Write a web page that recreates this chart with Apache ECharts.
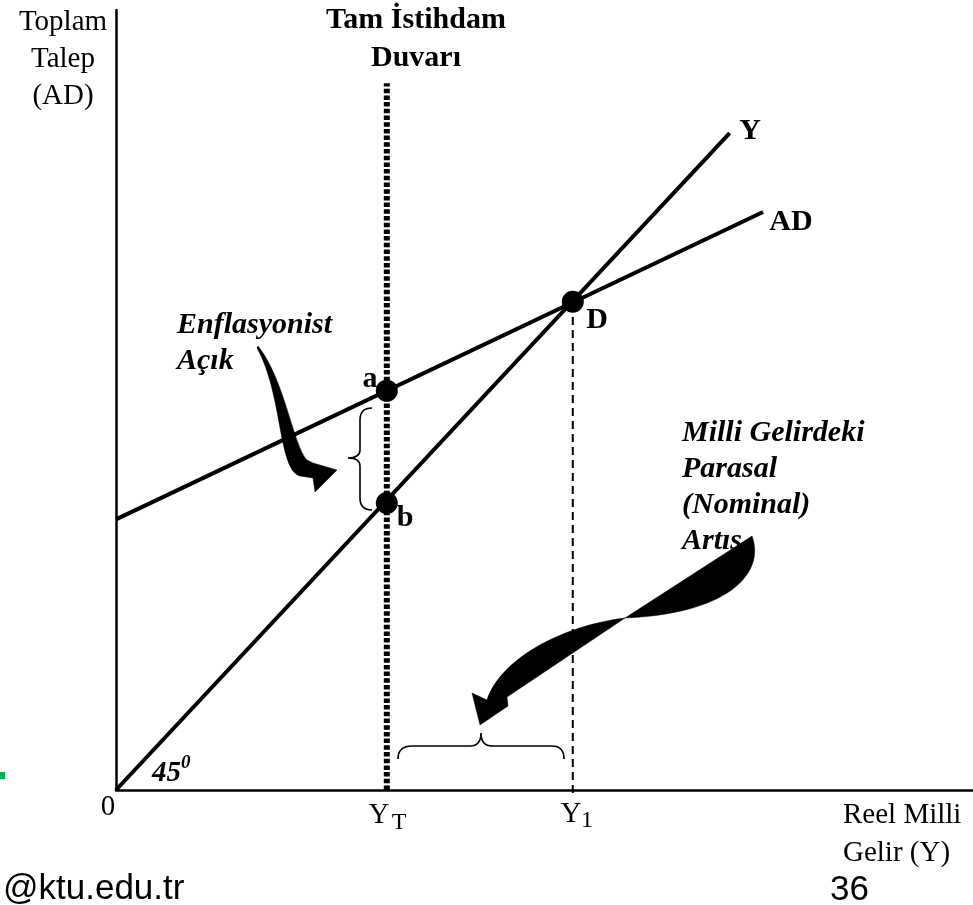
<!DOCTYPE html>
<html>
<head>
<meta charset="utf-8">
<script src="https://cdn.jsdelivr.net/npm/echarts@6/dist/echarts.min.js"></script>
<style>
  html, body { margin: 0; padding: 0; background: #fff; }
  #chart { width: 973px; height: 905px; }
</style>
</head>
<body>
<div id="chart"></div>
<script>
// axis units: 0..100 on both axes (no ticks in the original)
const lineY = [[0, 0], [71.6, 84.2]];
const lineAD = [[0, 34.7], [75.5, 74.1]];
const pointNames = ['a', 'b', 'D'];
const pointValues = [[31.6, 51.2], [31.6, 36.8], [53.3, 62.6]];
const wallLine = [[31.6, 0], [31.6, 90.6]];
const y1Line = [[53.3, -0.4], [53.3, 62.6]];

// brace and arrow outlines, [command, x, y, x, y ...] in axis units
const braceGap = [
  ['M', 29.87, 48.97], ['Q', 28.47, 48.97, 28.47, 47.44], ['L', 28.47, 43.59],
  ['Q', 28.47, 42.56, 27.07, 42.56], ['Q', 28.47, 42.56, 28.47, 41.54],
  ['L', 28.47, 37.44], ['Q', 28.47, 35.90, 29.87, 35.90]
];
const braceIncome = [
  ['M', 32.91, 3.97], ['Q', 32.91, 5.64, 34.54, 5.64], ['L', 41.31, 5.64],
  ['Q', 42.59, 5.64, 42.59, 7.31], ['Q', 42.59, 5.64, 43.87, 5.64],
  ['L', 50.88, 5.64], ['Q', 52.28, 5.64, 52.28, 3.97]
];
const arrowGap = [
  ['M', 16.45, 56.67], ['C', 19.49, 50.64, 18.90, 41.03, 21.47, 40.26],
  ['L', 22.99, 40.00], ['L', 23.22, 38.21], ['L', 25.79, 41.03],
  ['L', 22.99, 41.92], ['L', 22.29, 42.31],
  ['C', 20.65, 44.23, 19.72, 52.56, 16.57, 56.92], ['Z']
];
const arrowRiseTop = [
  ['M', 59.39, 22.05], ['L', 74.21, 32.56],
  ['C', 75.85, 27.56, 71.06, 22.56, 59.39, 22.05], ['Z']
];
const arrowRiseBottom = [
  ['M', 59.39, 22.05], ['C', 51.81, 21.03, 44.81, 16.67, 43.29, 11.54],
  ['L', 41.54, 12.44], ['L', 42.47, 8.33], ['L', 45.74, 10.77],
  ['L', 45.62, 11.92], ['Z']
];

const filledShapes = [arrowGap, arrowRiseTop, arrowRiseBottom];
const braceShapes = [braceGap, braceIncome];

function toPath(api, segs) {
  return segs.map(function (s) {
    const pts = [];
    for (let i = 1; i < s.length; i += 2) {
      const p = api.coord([s[i], s[i + 1]]);
      pts.push(p[0].toFixed(1) + ' ' + p[1].toFixed(1));
    }
    return s[0] + ' ' + pts.join(' ');
  }).join(' ');
}

const serif = '"Liberation Serif", "Times New Roman", serif';
const sans = '"Liberation Sans", Arial, sans-serif';

function txt(text, x, y, opt) {
  return {
    type: 'text', x: x, y: y, z: 100,
    style: Object.assign({
      text: text,
      fontFamily: serif,
      fontSize: 29,
      fill: '#000',
      textAlign: 'center',
      textVerticalAlign: 'middle'
    }, opt || {})
  };
}

const chart = echarts.init(document.getElementById('chart'), null, { renderer: 'canvas' });

const option = {
  backgroundColor: '#fff',
  animation: false,
  grid: { left: 116, right: 0, top: 10, bottom: 115 },
  xAxis: {
    type: 'value', min: 0, max: 100,
    axisLine: { show: true, onZero: false, lineStyle: { color: '#000', width: 2.5 } },
    axisTick: { show: false }, axisLabel: { show: false }, splitLine: { show: false }
  },
  yAxis: {
    type: 'value', min: 0, max: 100,
    axisLine: { show: true, onZero: false, lineStyle: { color: '#000', width: 2.5 } },
    axisTick: { show: false }, axisLabel: { show: false }, splitLine: { show: false }
  },
  series: [
    {
      name: 'Y', type: 'line', data: lineY, symbol: 'none', z: 3,
      lineStyle: { color: '#000', width: 4 }
    },
    {
      name: 'AD', type: 'line', data: lineAD, symbol: 'none', z: 3,
      lineStyle: { color: '#000', width: 4 }
    },
    {
      name: 'wall', type: 'line', data: wallLine, symbol: 'none', z: 4, clip: false,
      lineStyle: { color: '#000', width: 6, type: [4.5, 2.2] }
    },
    {
      name: 'Y1', type: 'line', data: y1Line, symbol: 'none', z: 2, clip: false,
      lineStyle: { color: '#000', width: 2, type: [8, 5] }
    },
    {
      name: 'points', type: 'scatter', z: 6,
      data: pointValues.map(function (v, i) { return { name: pointNames[i], value: v }; }),
      symbolSize: 22, itemStyle: { color: '#000', opacity: 1 }
    },
    {
      name: 'arrows', type: 'custom', z: 5, clip: false,
      data: filledShapes.map(function (s, i) { return [i, 0]; }),
      renderItem: function (params, api) {
        return {
          type: 'path',
          shape: { pathData: toPath(api, filledShapes[params.dataIndex]) },
          style: { fill: '#000', stroke: '#000', lineWidth: 0.5 }
        };
      }
    },
    {
      name: 'braces', type: 'custom', z: 5, clip: false,
      data: braceShapes.map(function (s, i) { return [i, 0]; }),
      renderItem: function (params, api) {
        return {
          type: 'path',
          shape: { pathData: toPath(api, braceShapes[params.dataIndex]) },
          style: { fill: null, stroke: '#000', lineWidth: 1.6 }
        };
      }
    }
  ],
  graphic: [
    txt('Toplam\nTalep\n(AD)', 63, 4, { textVerticalAlign: 'top', lineHeight: 37 }),
    txt('Tam İstihdam\nDuvarı', 416, 1, { textVerticalAlign: 'top', fontWeight: 'bold', fontSize: 30, lineHeight: 38 }),
    txt('Y', 750, 131, { fontWeight: 'bold', fontSize: 30 }),
    txt('AD', 791, 222, { fontWeight: 'bold', fontSize: 30 }),
    txt('D', 597, 320, { fontWeight: 'bold', fontSize: 30 }),
    txt('a', 370, 379, { fontWeight: 'bold', fontSize: 30 }),
    txt('b', 405, 518, { fontWeight: 'bold', fontSize: 30 }),
    txt('Enflasyonist\nAçık', 177, 307, { textAlign: 'left', textVerticalAlign: 'top', fontWeight: 'bold', fontStyle: 'italic', fontSize: 30, lineHeight: 36 }),
    txt('Milli Gelirdeki\nParasal\n(Nominal)\nArtıs', 682, 415, { textAlign: 'left', textVerticalAlign: 'top', fontWeight: 'bold', fontStyle: 'italic', fontSize: 30, lineHeight: 36 }),
    txt('45', 152, 774, { textAlign: 'left', fontWeight: 'bold', fontStyle: 'italic', fontSize: 29 }),
    txt('0', 181, 763, { textAlign: 'left', fontWeight: 'bold', fontStyle: 'italic', fontSize: 19 }),
    txt('0', 108, 807),
    txt('Y', 379, 815),
    txt('T', 399, 823, { fontSize: 24 }),
    txt('Y', 571, 814),
    txt('1', 587, 821, { fontSize: 24 }),
    txt('Reel Milli\nGelir (Y)', 843, 796, { textAlign: 'left', textVerticalAlign: 'top', lineHeight: 38 }),
    txt('@ktu.edu.tr', 3, 889, { textAlign: 'left', fontFamily: sans, fontSize: 35 }),
    txt('36', 830, 890, { textAlign: 'left', fontFamily: sans, fontSize: 35 }),
    { type: 'rect', shape: { x: 0, y: 772, width: 5, height: 7 }, style: { fill: '#00b050' } }
  ]
};

chart.setOption(option);
</script>
</body>
</html>
